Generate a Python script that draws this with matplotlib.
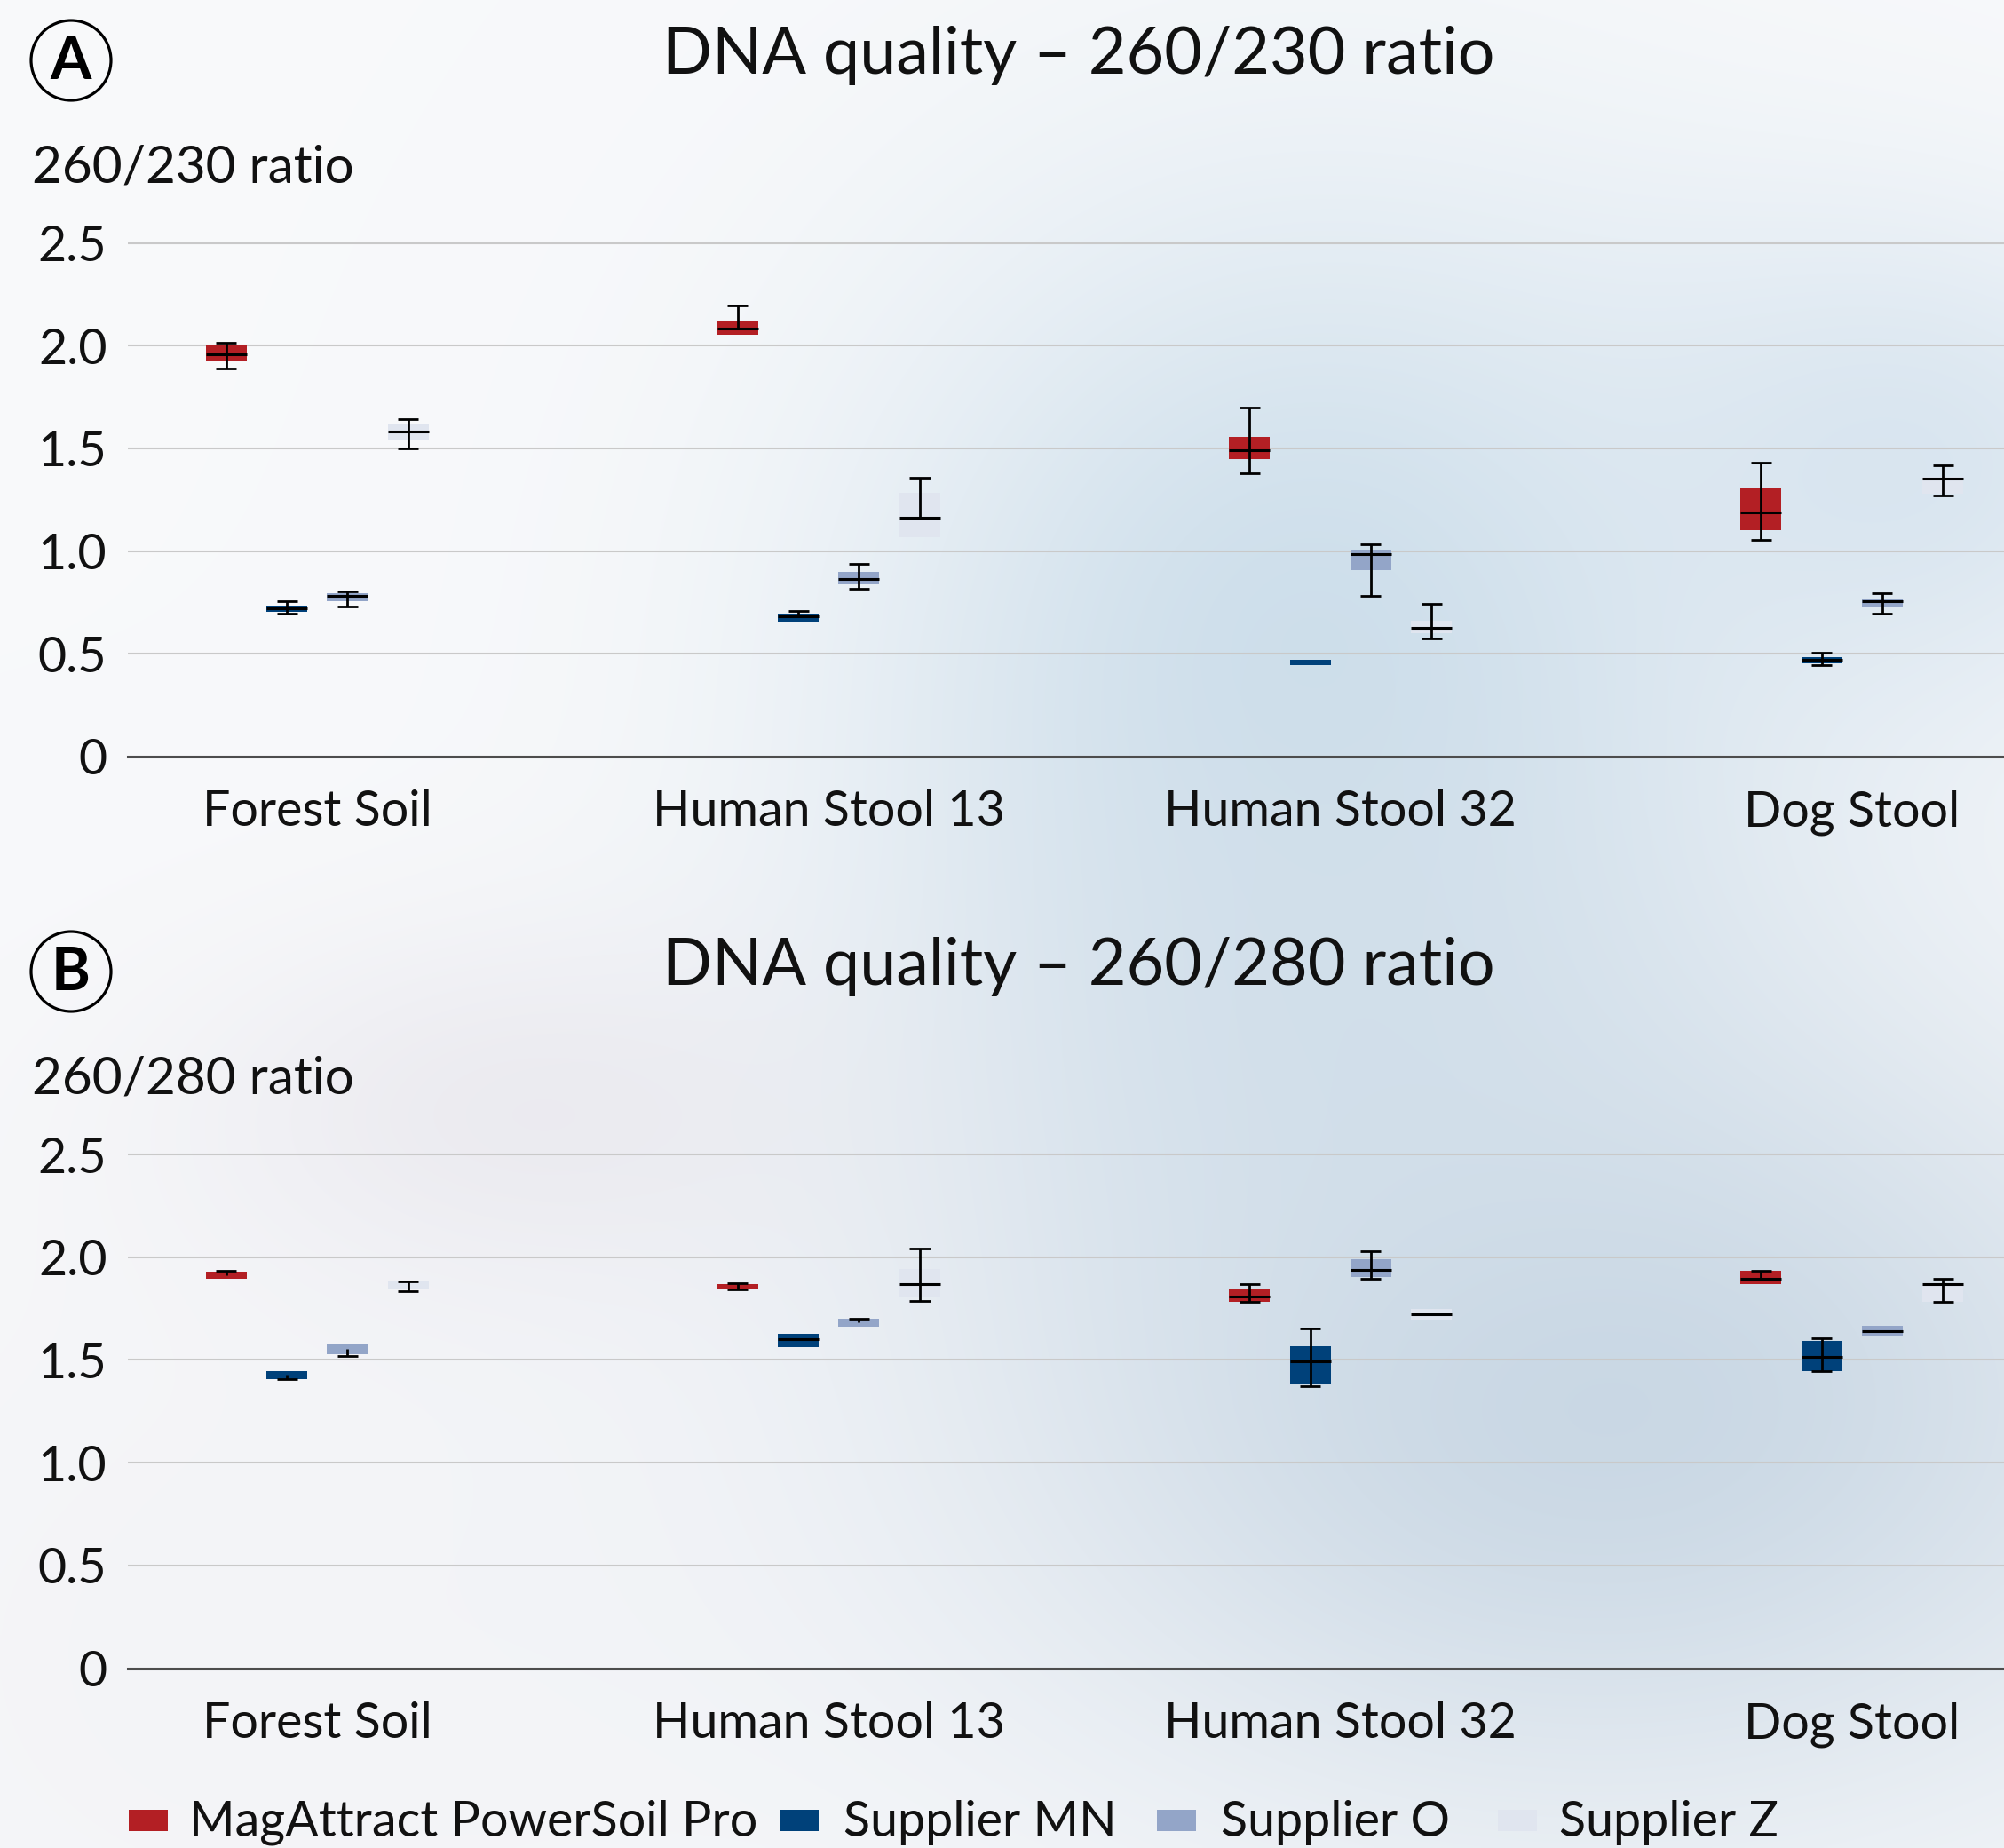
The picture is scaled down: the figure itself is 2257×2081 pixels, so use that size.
import numpy as np
import matplotlib
matplotlib.use('Agg')
import matplotlib.pyplot as plt
from matplotlib.patches import Ellipse, Rectangle

plt.rcParams['font.family'] = ['Lato', 'DejaVu Sans']

W_PX, H_PX = 2257, 2081

# ---------------------------------------------------------------------------
# DATA  (rows = supplier, columns = sample; nan = element not drawn)
# ---------------------------------------------------------------------------
categories = ["Forest Soil", "Human Stool 13", "Human Stool 32", "Dog Stool"]
suppliers = ["MagAttract PowerSoil Pro", "Supplier MN", "Supplier O", "Supplier Z"]
colors = ["#B31F24", "#00417A", "#93A5C8", "#E0E5EF"]
ytick_vals = [0, 0.5, 1.0, 1.5, 2.0, 2.5]
ytick_labels = ["0", "0.5", "1.0", "1.5", "2.0", "2.5"]
nan = np.nan

# 260/230 ratio
a_q1 = [[1.925, 2.054, 1.449, 1.103],
        [0.706, 0.658, 0.446, 0.455],
        [0.758, 0.840, 0.909, 0.732],
        [1.544, 1.067, 0.599, 1.279]]
a_med = [[1.959, 2.084, 1.490, 1.187],
         [0.720, 0.684, nan, 0.471],
         [0.781, 0.866, 0.984, 0.755],
         [1.583, 1.162, 0.625, 1.354]]
a_q3 = [[2.000, 2.122, 1.556, 1.309],
        [0.735, 0.696, 0.471, 0.484],
        [0.794, 0.899, 1.007, 0.769],
        [1.616, 1.283, 0.661, 1.363]]
a_lo = [[1.887, nan, 1.379, 1.056],
        [0.696, nan, nan, 0.445],
        [0.732, 0.815, 0.781, 0.697],
        [1.498, nan, 0.576, 1.271]]
a_hi = [[2.014, 2.194, 1.698, 1.429],
        [0.758, 0.710, nan, 0.506],
        [0.805, 0.938, 1.033, 0.794],
        [1.642, 1.356, 0.745, 1.416]]

# 260/280 ratio
b_q1 = [[1.895, 1.844, 1.784, 1.870],
        [1.408, 1.564, 1.382, 1.447],
        [1.529, 1.663, 1.905, 1.615],
        [1.844, 1.806, 1.698, 1.784]]
b_med = [[nan, nan, 1.810, 1.896],
         [nan, 1.602, 1.492, 1.515],
         [nan, nan, 1.938, 1.640],
         [nan, 1.870, 1.722, 1.870]]
b_q3 = [[1.930, 1.869, 1.847, 1.934],
        [1.446, 1.627, 1.567, 1.592],
        [1.575, 1.700, 1.990, 1.666],
        [1.882, 1.943, 1.747, 1.873]]
b_lo = [[nan, 1.844, 1.784, nan],
        [1.408, nan, 1.373, 1.447],
        [1.518, nan, 1.894, nan],
        [1.834, 1.786, nan, 1.784]]
b_hi = [[1.933, 1.873, 1.869, 1.934],
        [nan, nan, 1.653, 1.604],
        [nan, 1.700, 2.029, nan],
        [1.883, 2.042, nan, 1.895]]

# ---------------------------------------------------------------------------
# STYLE
# ---------------------------------------------------------------------------
BOX_W = 0.08
CAP_W = 0.04
OFFSETS = [-0.178, -0.059, 0.059, 0.178]
GRID_COLOR = "#C9C9C9"
AXIS_COLOR = "#4D4D4D"
TXT = "#111111"


def fx(px):
    return px / W_PX


def fy(py):
    return 1 - py / H_PX


def background():
    yy, xx = np.mgrid[0:H_PX:3, 0:W_PX:3].astype(float)
    img = np.ones(xx.shape + (3,)) * np.array([0.973, 0.977, 0.984])
    blobs = [
        (1480, 720, 360, 360, 0.95, (0.80, 0.87, 0.92)),
        (2150, 520, 260, 200, 0.75, (0.82, 0.88, 0.93)),
        (1800, 1580, 520, 340, 1.00, (0.79, 0.845, 0.895)),
        (1500, 1150, 300, 250, 0.60, (0.80, 0.86, 0.91)),
        (580, 1255, 260, 145, 0.55, (0.89, 0.88, 0.91)),
        (290, 1870, 520, 420, 0.40, (0.93, 0.93, 0.95)),
    ]
    for cx, cy, sx, sy, a, rgb in blobs:
        w = a * np.exp(-(((xx - cx) / sx) ** 2 + ((yy - cy) / sy) ** 2) / 2)
        img = img * (1 - w[..., None]) + np.array(rgb) * w[..., None]
    return img


def draw_panel(ax, q1, med, q3, lo, hi):
    x = np.arange(len(categories))
    for i in range(len(suppliers)):
        xs = x + OFFSETS[i]
        b1, m, b3 = np.array(q1[i]), np.array(med[i]), np.array(q3[i])
        l, h = np.array(lo[i]), np.array(hi[i])
        ax.bar(xs, b3 - b1, bottom=b1, width=BOX_W, color=colors[i],
               linewidth=0, zorder=2)
        mid = np.where(np.isnan(m), (b1 + b3) / 2, m)
        w_bot = np.where(np.isnan(l), mid, l)
        w_top = np.where(np.isnan(h), mid, h)
        ok = w_top > w_bot
        ax.vlines(xs[ok], w_bot[ok], w_top[ok], color="black", lw=2, zorder=3)
        mk = ~np.isnan(m)
        ax.hlines(m[mk], xs[mk] - BOX_W / 2, xs[mk] + BOX_W / 2,
                  color="black", lw=2.2, zorder=3)
        for v in (l, h):
            k = ~np.isnan(v)
            ax.hlines(v[k], xs[k] - CAP_W / 2, xs[k] + CAP_W / 2,
                      color="black", lw=2, zorder=3)

    ax.set_xlim(-0.37, 3.297)
    ax.set_ylim(0, 2.52)
    ax.set_facecolor("none")
    ax.set_xticks(x)
    ax.set_xticklabels(categories)
    ax.set_yticks(ytick_vals)
    ax.set_yticklabels(ytick_labels)
    ax.tick_params(axis="x", length=0, labelsize=40, pad=27, colors=TXT)
    ax.tick_params(axis="y", length=0, labelsize=40, pad=17, colors=TXT)
    ax.grid(axis="y", color=GRID_COLOR, lw=1.5)
    ax.set_axisbelow(True)
    for s in ("top", "right", "left"):
        ax.spines[s].set_visible(False)
    ax.spines["bottom"].set_color(AXIS_COLOR)
    ax.spines["bottom"].set_linewidth(2.2)


# ---------------------------------------------------------------------------
# FIGURE
# ---------------------------------------------------------------------------
fig = plt.figure(figsize=(W_PX / 100, H_PX / 100), dpi=100)

bg = fig.add_axes([0, 0, 1, 1], zorder=-10)
bg.imshow(background(), aspect="auto", interpolation="bilinear")
bg.axis("off")

ax_h = (852 - 268.9) / H_PX
ax_a = fig.add_axes([fx(144), fy(852), 1 - fx(144), ax_h])
ax_b = fig.add_axes([fx(144), fy(1878.5), 1 - fx(144), ax_h])

draw_panel(ax_a, a_q1, a_med, a_q3, a_lo, a_hi)
draw_panel(ax_b, b_q1, b_med, b_q3, b_lo, b_hi)

panels = [("A", "DNA quality \u2013 260/230 ratio", "260/230 ratio", 0),
          ("B", "DNA quality \u2013 260/280 ratio", "260/280 ratio", 1026)]
for letter, title, ylab, dy in panels:
    fig.add_artist(Ellipse((fx(80), fy(68 + dy)), 90 / W_PX, 90 / H_PX,
                           transform=fig.transFigure, fill=False,
                           ec="black", lw=2.3))
    fig.text(fx(80), fy(89 + dy), letter, ha="center", va="baseline",
             fontsize=48, fontweight="bold", color="black")
    fig.text(fx(1215), fy(83 + dy), title, ha="center", va="baseline",
             fontsize=53, color=TXT)
    fig.text(fx(36), fy(205 + dy), ylab, ha="left", va="baseline",
             fontsize=42, color=TXT)

# legend
sq_x = [145, 878, 1303, 1687]
tx_x = [213, 950, 1375, 1756]
for i, name in enumerate(suppliers):
    fig.add_artist(Rectangle((fx(sq_x[i]), fy(2062)), 44 / W_PX, 24 / H_PX,
                             transform=fig.transFigure, color=colors[i],
                             lw=0))
    fig.text(fx(tx_x[i]), fy(2068), name, ha="left", va="baseline",
             fontsize=40, color=TXT)

fig.savefig("out.png", dpi=100)
plt.close(fig)
